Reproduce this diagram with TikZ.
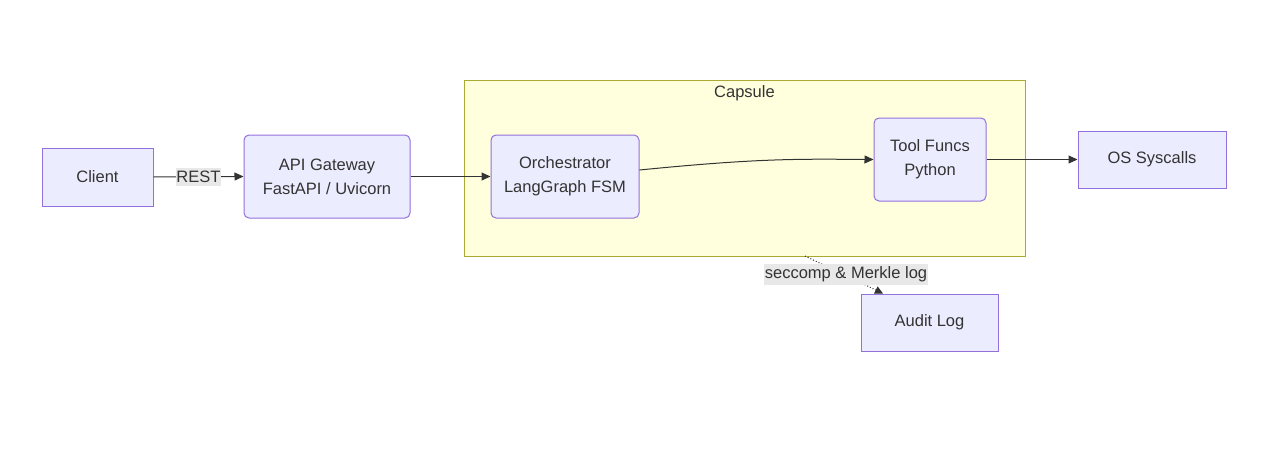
\documentclass[tikz,border=0pt]{standalone}
\usepackage{fontspec}
\setmainfont{Liberation Sans}
\usetikzlibrary{arrows.meta}
\definecolor{nodefill}{HTML}{ECECFF}
\definecolor{nodeline}{HTML}{9370DB}
\definecolor{clfill}{HTML}{FFFFDE}
\definecolor{clline}{HTML}{AAAA33}
\definecolor{edge}{HTML}{333333}
\definecolor{lblbg}{HTML}{E8E8E8}
\definecolor{txt}{HTML}{333333}
\tikzset{
  box/.style={draw=nodeline, fill=nodefill, line width=1pt, align=center, text=txt, font=\fontsize{16.5}{24}\selectfont, inner sep=0pt},
  rbox/.style={box, rounded corners=5pt},
  conn/.style={draw=edge, line width=1pt, -{Triangle[length=9pt,width=8pt]}},
  lbl/.style={fill=lblbg, text=txt, font=\fontsize{16.5}{24}\selectfont, inner xsep=0.5pt, inner ysep=3pt}
}
\begin{document}
\begin{tikzpicture}[x=1pt,y=-1pt]
\useasboundingbox (0,0) rectangle (1262,474);
\node[draw=clline, fill=clfill, line width=1pt, minimum width=561pt, minimum height=176pt, inner sep=0pt] (capsule) at (744.5,168) {};
\node[text=txt, font=\fontsize{16.5}{24}\selectfont] (caplbl) at (744.5,93) {Capsule};
\node[box, minimum width=111pt, minimum height=58pt] (client) at (97.5,177) {Client};
\node[rbox, minimum width=166pt, minimum height=83pt] (api) at (327,176.5) {API Gateway\\FastAPI / Uvicorn};
\node[rbox, minimum width=148pt, minimum height=83pt] (orch) at (565,176.5) {Orchestrator\\LangGraph FSM};
\node[rbox, minimum width=112pt, minimum height=83pt] (tool) at (930,159.5) {Tool Funcs\\Python};
\node[box, minimum width=148pt, minimum height=57pt] (os) at (1152,159.5) {OS Syscalls};
\node[box, minimum width=137pt, minimum height=57pt] (audit) at (929.5,322.5) {Audit Log};
\draw[conn] (client.east) -- (api.west);
\node[lbl] (rest) at (198.5,177) {REST};
\draw[conn] (api.east) -- (orch.west);
\draw[conn] (orch.east |- 0,170) .. controls (760,158) and (800,159) .. (tool.west);
\draw[conn] (tool.east) -- (os.west);
\coordinate (capb) at (805,256);
\draw[draw=edge, line width=1pt, dotted, -{Triangle[length=8pt,width=8pt]}] (capb) -- (audit.north -| 883,0);
\node[lbl] (sec) at (846,274.5) {seccomp \& Merkle log};
\end{tikzpicture}
\end{document}
